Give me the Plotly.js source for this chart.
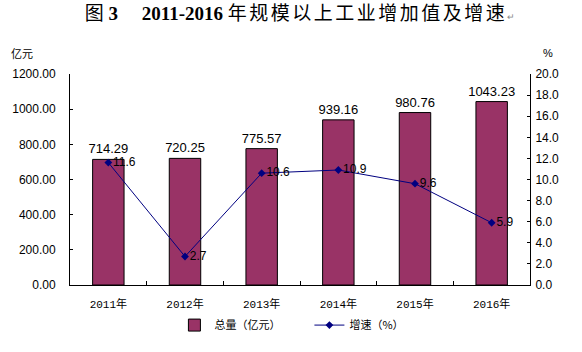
<!DOCTYPE html>
<html>
<head>
<meta charset="utf-8">
<script src="https://cdn.plot.ly/plotly-3.0.1.min.js"></script>
<style>html,body{margin:0;padding:0;background:#fff;}#chart{width:582px;height:352px;}</style>
</head>
<body>
<div id="chart"></div>
<script>
var years = ["2011年", "2012年", "2013年", "2014年", "2015年", "2016年"];
var totals = [714.29, 720.25, 775.57, 939.16, 980.76, 1043.23];
var growth = [11.6, 2.7, 10.6, 10.9, 9.6, 5.9];
var leftTicks = [0, 200, 400, 600, 800, 1000, 1200];
var rightTicks = [0, 2, 4, 6, 8, 10, 12, 14, 16, 18, 20];

var sansFont = "Liberation Sans, Arial, Noto Sans CJK SC, sans-serif";
var cjkFont = "Noto Sans CJK SC, Liberation Sans, sans-serif";

var barTrace = {
  type: "bar",
  name: "总量（亿元）",
  x: years,
  y: totals,
  width: 0.41,
  marker: {color: "#993366", line: {color: "#000000", width: 1}},
  text: totals.map(function(v){ return v.toFixed(2); }),
  textposition: "outside",
  constraintext: "none",
  cliponaxis: false,
  textfont: {family: sansFont, size: 13, color: "#000"},
  hoverinfo: "skip"
};
var lineTrace = {
  type: "scatter",
  mode: "lines+markers+text",
  name: "增速（%）",
  x: years,
  y: growth,
  yaxis: "y2",
  line: {color: "#000080", width: 1},
  marker: {symbol: "diamond", size: 6, color: "#000080"},
  text: growth.map(function(v){ return v.toFixed(1); }),
  textposition: "middle right",
  cliponaxis: false,
  textfont: {family: sansFont, size: 12, color: "#000"},
  hoverinfo: "skip"
};

var layout = {
  width: 582,
  height: 352,
  margin: {l: 70, r: 52, t: 74, b: 65},
  paper_bgcolor: "#fff",
  plot_bgcolor: "#fff",
  showlegend: true,
  title: {
    text: "图 <b>3</b>　 <b>2011-2016</b> <span style=\"letter-spacing:2.5px\">年规模以上工业增加值及增速</span><span style=\"font-size:9px;color:#888\">↵</span>",
    font: {family: "Liberation Serif, Noto Sans CJK SC, serif", size: 19, color: "#000"},
    x: 0.5, xanchor: "center", xref: "paper",
    y: 0.962, yanchor: "middle"
  },
  xaxis: {
    type: "category",
    showline: true, linecolor: "#000", linewidth: 1,
    ticks: "inside", tickson: "boundaries", ticklen: 4, tickcolor: "#000",
    tickfont: {family: "Liberation Mono, Noto Sans CJK SC, monospace", size: 11, color: "#000"},
    ticklabelstandoff: 9,
    showgrid: false, zeroline: false,
    range: [-0.5, 5.5]
  },
  yaxis: {
    range: [0, 1200],
    tickvals: leftTicks,
    ticktext: leftTicks.map(function(v){ return v.toFixed(2); }),
    showline: true, linecolor: "#000", linewidth: 1,
    ticks: "inside", ticklen: 3, tickcolor: "#000",
    tickfont: {family: sansFont, size: 12, color: "#000"},
    ticklabelstandoff: 11,
    showgrid: false, zeroline: false
  },
  yaxis2: {
    overlaying: "y",
    side: "right",
    range: [0, 20],
    tickvals: rightTicks,
    ticktext: rightTicks.map(function(v){ return v.toFixed(1); }),
    showline: true, linecolor: "#000", linewidth: 1,
    ticks: "inside", ticklen: 3, tickcolor: "#000",
    tickfont: {family: sansFont, size: 12, color: "#000"},
    ticklabelstandoff: 2,
    showgrid: false, zeroline: false
  },
  legend: {
    orientation: "h",
    x: 0.227, xanchor: "left",
    y: -0.19, yanchor: "middle",
    font: {family: cjkFont, size: 11, color: "#000"},
    entrywidth: 90,
    traceorder: "normal"
  },
  annotations: [
    {text: "亿元", xref: "paper", yref: "paper", x: -0.105, y: 1.1, xanchor: "center", yanchor: "middle", showarrow: false,
     font: {family: cjkFont, size: 11, color: "#000"}},
    {text: "%", xref: "paper", yref: "paper", x: 1.04, y: 1.1, xanchor: "center", yanchor: "middle", showarrow: false,
     font: {family: sansFont, size: 11, color: "#000"}}
  ]
};

Plotly.newPlot("chart", [barTrace, lineTrace], layout, {displayModeBar: false, staticPlot: true});
</script>
</body>
</html>
